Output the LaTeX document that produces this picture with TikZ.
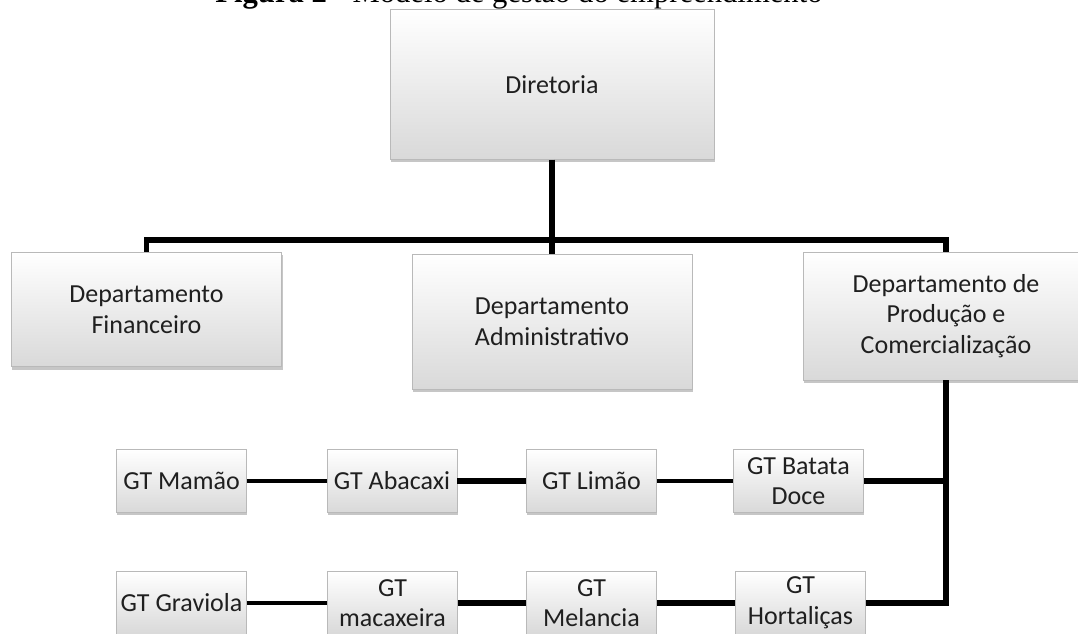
\documentclass[tikz,border=0pt]{standalone}
\usepackage{fontspec}
\setmainfont{Carlito}
\newfontfamily\titlefont{Liberation Serif}
\usetikzlibrary{shadows}
\begin{document}
\begin{tikzpicture}[x=0.75pt, y=-0.75pt,
  every node/.style={font=\fontsize{19.5}{23}\selectfont, text=black!88},
  unit/.style={draw=gray!55, line width=0.6pt, top color=white, bottom color=gray!30,
    align=center, inner sep=1pt,
    drop shadow={opacity=0.45, shadow xshift=0.6pt, shadow yshift=-2.2pt}},
  link/.style={line width=4pt}]
  \useasboundingbox (0,0) rectangle (1078,634);

  \node[font=\titlefont\fontsize{23}{26}\selectfont, text=black, anchor=base] (title)
    at (519,3) {\textbf{Figura 2} - Modelo de gestão do empreendimento};

  \node[unit, minimum width=243pt, minimum height=112pt] (dir) at (552,84.5) {Diretoria};

  \node[unit, minimum width=203pt, minimum height=86pt] (fin) at (146.5,309.5)
    {Departamento\\ Financeiro};
  \node[unit, minimum width=210pt, minimum height=101pt] (adm) at (552,322)
    {Departamento\\ Administrativo};
  \node[unit, minimum width=214.5pt, minimum height=96pt] (prod) at (946,316)
    {Departamento de\\ Produção e\\ Comercialização};

  \coordinate (bar) at (552,240);
  \draw[link] (dir) -- (adm);
  \draw[link] (fin.north) |- (bar) -| (prod.north);

  \node[unit, minimum width=97.5pt, minimum height=47pt] (mam) at (181.5,481) {GT Mamão};
  \node[unit, minimum width=97.5pt, minimum height=47pt] (aba) at (392,481) {GT Abacaxi};
  \node[unit, minimum width=97.5pt, minimum height=47pt] (lim) at (591.5,481) {GT Limão};
  \node[unit, minimum width=97.5pt, minimum height=47pt] (bat) at (798.5,481) {GT Batata\\ Doce};

  \node[unit, minimum width=97.5pt, minimum height=47pt] (grav) at (181.5,603) {GT Graviola};
  \node[unit, minimum width=97.5pt, minimum height=47pt] (mac) at (392.5,603) {GT\\ macaxeira};
  \node[unit, minimum width=97.5pt, minimum height=47pt] (mel) at (591.5,603) {GT\\ Melancia};
  \node[unit, minimum width=97.5pt, minimum height=47pt] (hort) at (800.5,603) {GT\\ Hortaliças};

  \coordinate (trunk) at (946,603);
  \draw[link, line width=4.4pt] (prod.south) -- (trunk) -- (hort.east);
  \draw[link, line width=4.4pt] (trunk |- bat.east) -- (bat.east);

  \draw[link, line width=3.2pt] (mam) -- (aba);
  \draw[link] (aba) -- (lim);
  \draw[link, line width=3.2pt] (lim) -- (bat);
  \draw[link, line width=3.2pt] (grav) -- (mac);
  \draw[link, line width=4.4pt] (mac) -- (mel);
  \draw[link] (mel) -- (hort);
\end{tikzpicture}
\end{document}
